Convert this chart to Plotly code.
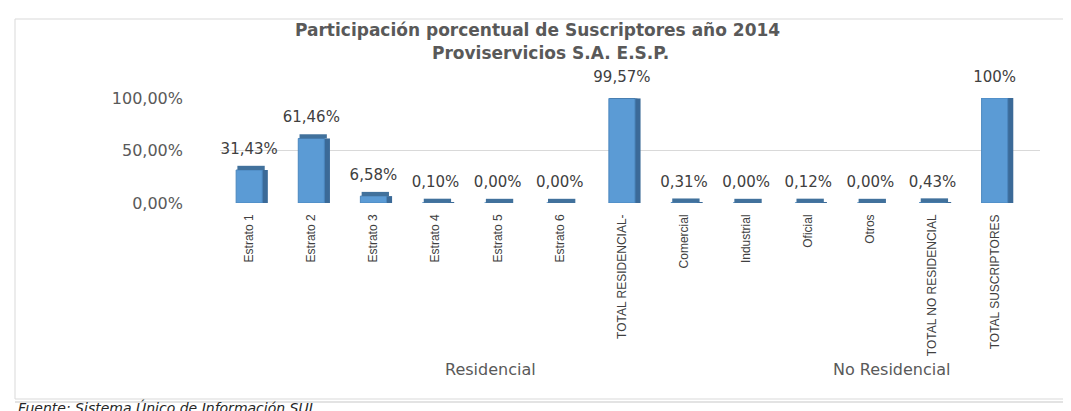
import plotly.graph_objects as go

# data
categories = ["Estrato 1", "Estrato 2", "Estrato 3", "Estrato 4", "Estrato 5", "Estrato 6",
              "TOTAL RESIDENCIAL-", "Comercial", "Industrial", "Oficial", "Otros",
              "TOTAL NO RESIDENCIAL", "TOTAL SUSCRIPTORES"]
shares = [0.3143, 0.6146, 0.0658, 0.0010, 0.0000, 0.0000, 0.9957,
          0.0031, 0.0000, 0.0012, 0.0000, 0.0043, 1.0000]
share_labels = ["31,43%", "61,46%", "6,58%", "0,10%", "0,00%", "0,00%", "99,57%",
                "0,31%", "0,00%", "0,12%", "0,00%", "0,43%", "100%"]
groups = ["Residencial", "No Residencial"]
title_lines = ["Participación porcentual de Suscriptores año 2014", "Proviservicios S.A. E.S.P."]

W, H = 1071, 411
L, R, T, B = 212, 1032, 90, 195   # plot area in px


def px_x(px):
    return (px - L) / (R - L)


def px_y(py):
    return (B - py) / (B - T)


cap = 0.04  # thickness of the fake 3d top face

fig = go.Figure()
# side face
fig.add_trace(go.Bar(x=categories, y=shares, width=0.1, offset=0.2,
                     marker=dict(color="#3B6A98", line=dict(width=0)),
                     hoverinfo="skip"))
# front face
fig.add_trace(go.Bar(x=categories, y=shares, width=0.42, offset=-0.21,
                     marker=dict(color="#5B9BD5", line=dict(color="#4A86BE", width=1))))
# top face
fig.add_trace(go.Bar(x=categories, y=[cap] * len(shares), base=shares, width=0.44, offset=-0.19,
                     marker=dict(color="#41719C", line=dict(width=0)),
                     cliponaxis=False, hoverinfo="skip"))
# data labels
fig.add_trace(go.Scatter(x=categories, y=shares, mode="markers+text", text=share_labels,
                         textposition="top center", cliponaxis=False,
                         marker=dict(size=18, color="rgba(0,0,0,0)"),
                         textfont=dict(family="DejaVu Sans", size=15, color="#404040"),
                         hoverinfo="skip"))

fig.update_layout(
    width=W, height=H,
    margin=dict(l=L, r=W - R, t=T, b=H - B),
    barmode="overlay",
    showlegend=False,
    separators=",.",
    paper_bgcolor="white", plot_bgcolor="white",
)

fig.update_xaxes(type="category", range=[-0.47, 12.73], showgrid=False, showline=False,
                 zeroline=False, ticks="", tickangle=-90, ticklabelstandoff=8,
                 tickfont=dict(family="Liberation Sans, Arial, sans-serif",
                               size=12, color="#404040"))
fig.update_yaxes(range=[0, 1], dtick=0.5, tickformat=".2%", showgrid=True,
                 gridcolor="#D9D9D9", gridwidth=1, zeroline=False, showline=False,
                 ticks="", ticklabelstandoff=36,
                 tickfont=dict(family="DejaVu Sans", size=16, color="#595959"))

# title, two lines
for line, (xp, yp) in zip(title_lines, [(529, 22), (542, 45)]):
    fig.add_annotation(text="<b>" + line + "</b>", xref="paper", yref="paper",
                       x=px_x(xp), y=px_y(yp), showarrow=False,
                       xanchor="center", yanchor="middle",
                       font=dict(family="DejaVu Sans", size=17, color="#595959"))

# group labels under the categories
for name, xp in zip(groups, [482, 884]):
    fig.add_annotation(text=name, xref="paper", yref="paper", x=px_x(xp), y=px_y(362),
                       showarrow=False, xanchor="center", yanchor="middle",
                       font=dict(family="DejaVu Sans", size=16, color="#595959"))

# source note
fig.add_annotation(text="<i>Fuente: Sistema Único de Información SUI</i>",
                   xref="paper", yref="paper", x=px_x(8), y=px_y(389),
                   showarrow=False, xanchor="left", yanchor="top",
                   font=dict(family="DejaVu Sans", size=14, color="#262626"))

# chart frame
fig.add_shape(type="rect", xref="paper", yref="paper",
              x0=px_x(7), x1=px_x(W + 5), y0=px_y(391), y1=px_y(11),
              line=dict(color="#D9D9D9", width=1), layer="below")
fig.add_shape(type="line", xref="paper", yref="paper",
              x0=px_x(7), x1=px_x(W + 5), y0=px_y(394), y1=px_y(394),
              line=dict(color="#E3E3E3", width=2))

fig.write_html("out.html")
